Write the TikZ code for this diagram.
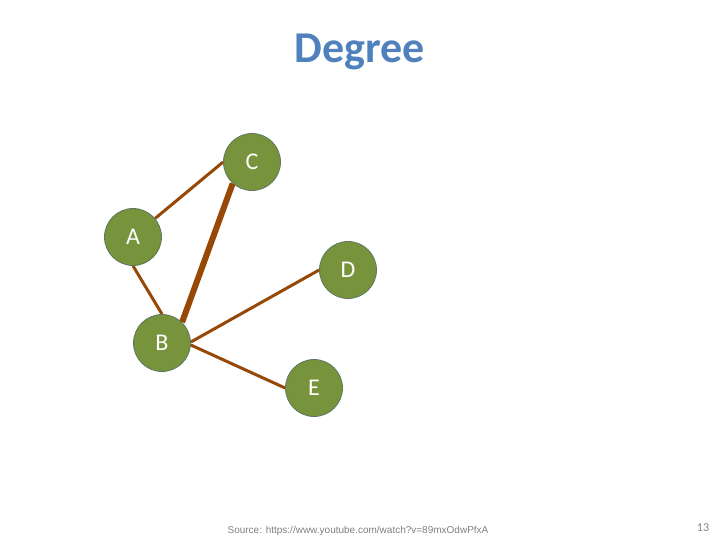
\documentclass[tikz,border=0pt]{standalone}
\usepackage{fontspec}
\usetikzlibrary{backgrounds}
\setmainfont{Carlito}
\newfontfamily\srcfont{Liberation Sans}
\definecolor{nodegreen}{HTML}{77933C}
\definecolor{nodeborder}{HTML}{5E7560}
\definecolor{edgebrown}{HTML}{974806}
\definecolor{titleblue}{HTML}{4F81BD}
\tikzset{
  vert/.style={circle, fill=nodegreen, draw=nodeborder, line width=0.8pt, minimum size=57pt, inner sep=0pt, text=white, font=\fontsize{24}{28}\selectfont},
  edge/.style={draw=edgebrown, line width=3pt},
  thickedge/.style={draw=edgebrown, line width=6pt},
}
\begin{document}
\begin{tikzpicture}[x=1pt,y=-1pt]
\useasboundingbox (0,0) rectangle (720,540);
\node[text=titleblue, font=\fontsize{44}{50}\selectfont\bfseries] (title) at (360,52) {Degree};
\node[vert] (C) at (252,162) {C};
\node[vert] (A) at (133,237) {A};
\node[vert] (D) at (348,270) {D};
\node[vert] (B) at (162,343) {B};
\node[vert] (E) at (314,388) {E};
\begin{scope}[on background layer]
\draw[edge] (A.40) -- (C.180);
\draw[edge] (A.270) -- (B.90);
\draw[thickedge] (B.46) -- (C.228);
\draw[edge] (B.2) -- (D.180);
\draw[edge] (B.356) -- (E.180);
\end{scope}
\node[text=gray, font=\srcfont\fontsize{10}{12}\selectfont] (src) at (358,531) {Source: https://www.youtube.com/watch?v=89mxOdwPfxA};
\node[text=gray, font=\fontsize{12}{14}\selectfont] (pg) at (703,528) {13};
\end{tikzpicture}
\end{document}
